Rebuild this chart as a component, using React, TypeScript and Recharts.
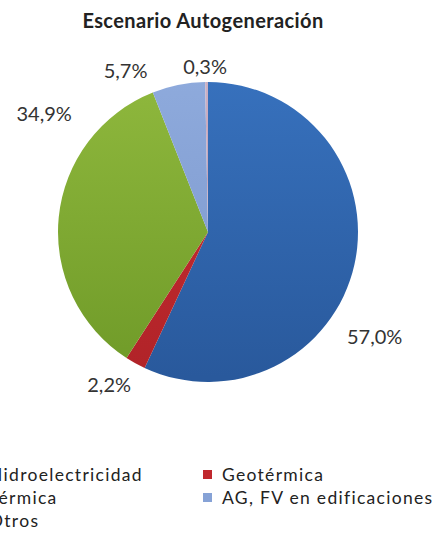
import { PieChart, Pie, Cell, Legend } from "recharts";

const TITLE = "Escenario Autogeneración";
const categories = ["Hidroelectricidad", "Geotérmica", "Térmica", "AG, FV en edificaciones", "Otros"];
const shares = [57.0, 2.2, 34.9, 5.7, 0.3];

const data = categories.map((name, i) => ({ name, value: shares[i] }));

// flat colour for legend swatches, gradient pair for the slices
const colors = ["#2f66b0", "#c0282e", "#82ad33", "#86a2d6", "#c4a6bc"];
const gradients = [
  ["#3771bd", "#29599c"],
  ["#cc2e33", "#b02328"],
  ["#8fb83d", "#6f9a28"],
  ["#8eaadc", "#7b97cc"],
  ["#cbb0c4", "#b897ae"],
];

// where Excel put each percentage: degrees clockwise from 12 o'clock, distance in radii
const labelSpots = [
  { angle: 122, dist: 1.31 },
  { angle: 213, dist: 1.21 },
  { angle: 306, dist: 1.35 },
  { angle: 333, dist: 1.21 },
  { angle: 359, dist: 1.11 },
];

const FONT = "Lato, 'Open Sans', sans-serif";

function fmt(v: number) {
  return v.toFixed(1).replace(".", ",") + "%";
}

function renderLabel(props: any) {
  const { cx, cy, outerRadius, index, value } = props;
  const spot = labelSpots[index];
  const rad = (spot.angle * Math.PI) / 180;
  const r = outerRadius * spot.dist;
  const x = cx + r * Math.sin(rad);
  const y = cy - r * Math.cos(rad);
  return (
    <text
      x={x}
      y={y}
      textAnchor="middle"
      dominantBaseline="central"
      fill="#333"
      fontSize={20}
      fontFamily={FONT}
    >
      {fmt(value)}
    </text>
  );
}

// legend keeps the data order (row by row, two columns), like the Excel original
function LegendBox() {
  return (
    <div
      style={{
        display: "grid",
        gridTemplateColumns: "233px 233px",
        rowGap: 3,
        fontFamily: FONT,
        fontSize: 17.5,
        letterSpacing: 1.3,
        color: "#222",
      }}
    >
      {categories.map((name, i) => (
        <div key={name} style={{ display: "flex", alignItems: "center", height: 20, whiteSpace: "nowrap" }}>
          <span style={{ width: 9, height: 9, background: colors[i], marginRight: 10, flex: "none" }} />
          <span>{name}</span>
        </div>
      ))}
    </div>
  );
}

export default function App() {
  return (
    <div
      style={{
        position: "absolute",
        left: 0,
        top: 0,
        width: 434,
        height: 560,
        overflow: "hidden",
        background: "#fff",
      }}
    >
      <div
        style={{
          position: "absolute",
          top: 8,
          left: 0,
          width: 406,
          textAlign: "center",
          fontFamily: FONT,
          fontWeight: 700,
          fontSize: 20,
          letterSpacing: 0.4,
          color: "#222",
        }}
      >
        {TITLE}
      </div>
      <PieChart width={434} height={560}>
        <defs>
          {gradients.map(([top, bottom], i) => (
            <linearGradient key={i} id={`slice${i}`} gradientUnits="userSpaceOnUse" x1="0" y1="77" x2="0" y2="377">
              <stop offset="0%" stopColor={top} />
              <stop offset="100%" stopColor={bottom} />
            </linearGradient>
          ))}
        </defs>
        <Pie
          data={data}
          dataKey="value"
          nameKey="name"
          cx={203}
          cy={227}
          outerRadius={150}
          startAngle={90}
          endAngle={-270}
          stroke="none"
          label={renderLabel}
          labelLine={false}
          isAnimationActive={false}
        >
          {data.map((d, i) => (
            <Cell key={d.name} fill={`url(#slice${i})`} />
          ))}
        </Pie>
        <Legend
          content={<LegendBox />}
          wrapperStyle={{ position: "absolute", left: -30, top: 464, width: 480 }}
        />
      </PieChart>
    </div>
  );
}
